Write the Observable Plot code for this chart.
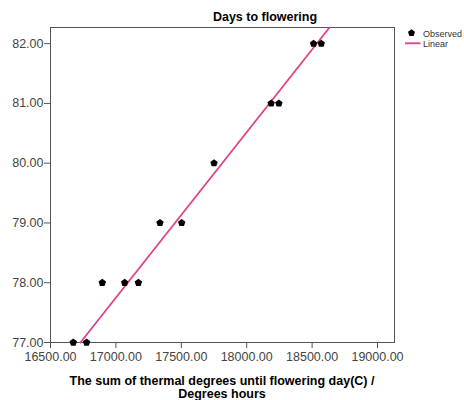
<!DOCTYPE html>
<html><head><meta charset="utf-8">
<script src="https://cdn.jsdelivr.net/npm/d3@7"></script>
<script src="https://cdn.jsdelivr.net/npm/@observablehq/plot@0.6"></script>
<style>body{margin:0;background:#fff;} svg{display:block;}</style>
</head><body><div id="chart"></div>
<script>
const thermalSum = [16674, 16776, 16896, 17067, 17172, 17337, 17503, 17750, 18187, 18246, 18511, 18570];
const daysToFlowering = [77, 77, 78, 78, 78, 79, 79, 80, 81, 81, 82, 82];
// two points on the "Linear" fit line
const linearFitX = [16729, 18633];
const linearFitY = [77.0, 82.27];
const xTicks = [16500, 17000, 17500, 18000, 18500, 19000];
const yTicks = [77, 78, 79, 80, 81, 82];
const titleText = "Days to flowering";
const xTitleLines = ["The sum of thermal degrees until flowering day(C) /", "Degrees hours"];
const legendLabels = ["Observed", "Linear"];

const xDomain = [16500, 19130];
const yDomain = [77, 82.27];

const observed = thermalSum.map((x, i) => ({x, y: daysToFlowering[i]}));

// fitted line y = a + b x, extended across the plot and clipped to it
const b = (linearFitY[1] - linearFitY[0]) / (linearFitX[1] - linearFitX[0]);
const a = linearFitY[0] - b * linearFitX[0];
const xAt = y => (y - a) / b;
const fitLine = [yDomain[0], yDomain[1]].map(y => {
  const x = Math.max(xDomain[0], Math.min(xDomain[1], xAt(y)));
  return {x, y: a + b * x};
});

const pentagon = {
  draw(ctx, size) {
    const R = Math.sqrt(size / Math.PI) * 1.15;
    for (let k = 0; k < 5; k++) {
      const ang = -Math.PI / 2 + k * 2 * Math.PI / 5;
      const px = R * Math.cos(ang), py = R * Math.sin(ang);
      if (k === 0) ctx.moveTo(px, py); else ctx.lineTo(px, py);
    }
    ctx.closePath();
  }
};

const pink = "#e0408a";
const font = "'Liberation Sans', Arial, sans-serif";

const svg = Plot.plot({
  width: 464, height: 400,
  marginLeft: 50, marginRight: 70, marginTop: 27, marginBottom: 58,
  style: {fontFamily: font, fontSize: "12.5px", color: "#444", background: "#fff"},
  x: {domain: xDomain},
  y: {domain: yDomain},
  marks: [
    Plot.frame({stroke: "#555", strokeWidth: 1}),
    Plot.axisX({ticks: xTicks, tickFormat: d => d.toFixed(2), tickSize: 6, tickPadding: 4, label: null, stroke: "#555", fill: "#444"}),
    Plot.axisY({ticks: yTicks, tickFormat: d => d.toFixed(2), tickSize: 6, tickPadding: 1, label: null, stroke: "#555", fill: "#444"}),
    Plot.line(fitLine, {x: "x", y: "y", stroke: pink, strokeWidth: 1.8}),
    Plot.dot(observed, {x: "x", y: "y", symbol: pentagon, r: 3.4, fill: "#000", stroke: "none"})
  ]
});

const s = d3.select(svg);
s.append("text").attr("x", 265).attr("y", 21).attr("text-anchor", "middle")
  .attr("font-family", font).attr("font-size", 12.5).attr("font-weight", "bold").attr("fill", "#000").text(titleText);
xTitleLines.forEach((t, i) => {
  s.append("text").attr("x", 222).attr("y", 385 + i * 13).attr("text-anchor", "middle")
    .attr("font-family", font).attr("font-size", 12.5).attr("font-weight", "bold").attr("fill", "#000").text(t);
});
// legend
const lg = s.append("g").attr("font-family", font).attr("font-size", 9).attr("fill", "#333").attr("text-anchor", "start");
lg.append("path").attr("transform", "translate(411.5,33)")
  .attr("d", d3.symbol().type(pentagon).size(3.2 * 3.2 * Math.PI)()).attr("fill", "#000");
lg.append("text").attr("x", 423).attr("y", 36.5).text(legendLabels[0]);
lg.append("line").attr("x1", 405).attr("x2", 420.5).attr("y1", 43.3).attr("y2", 43.3).attr("stroke", pink).attr("stroke-width", 1.8);
lg.append("text").attr("x", 423).attr("y", 46.7).text(legendLabels[1]);

document.getElementById("chart").appendChild(svg);
</script></body></html>
